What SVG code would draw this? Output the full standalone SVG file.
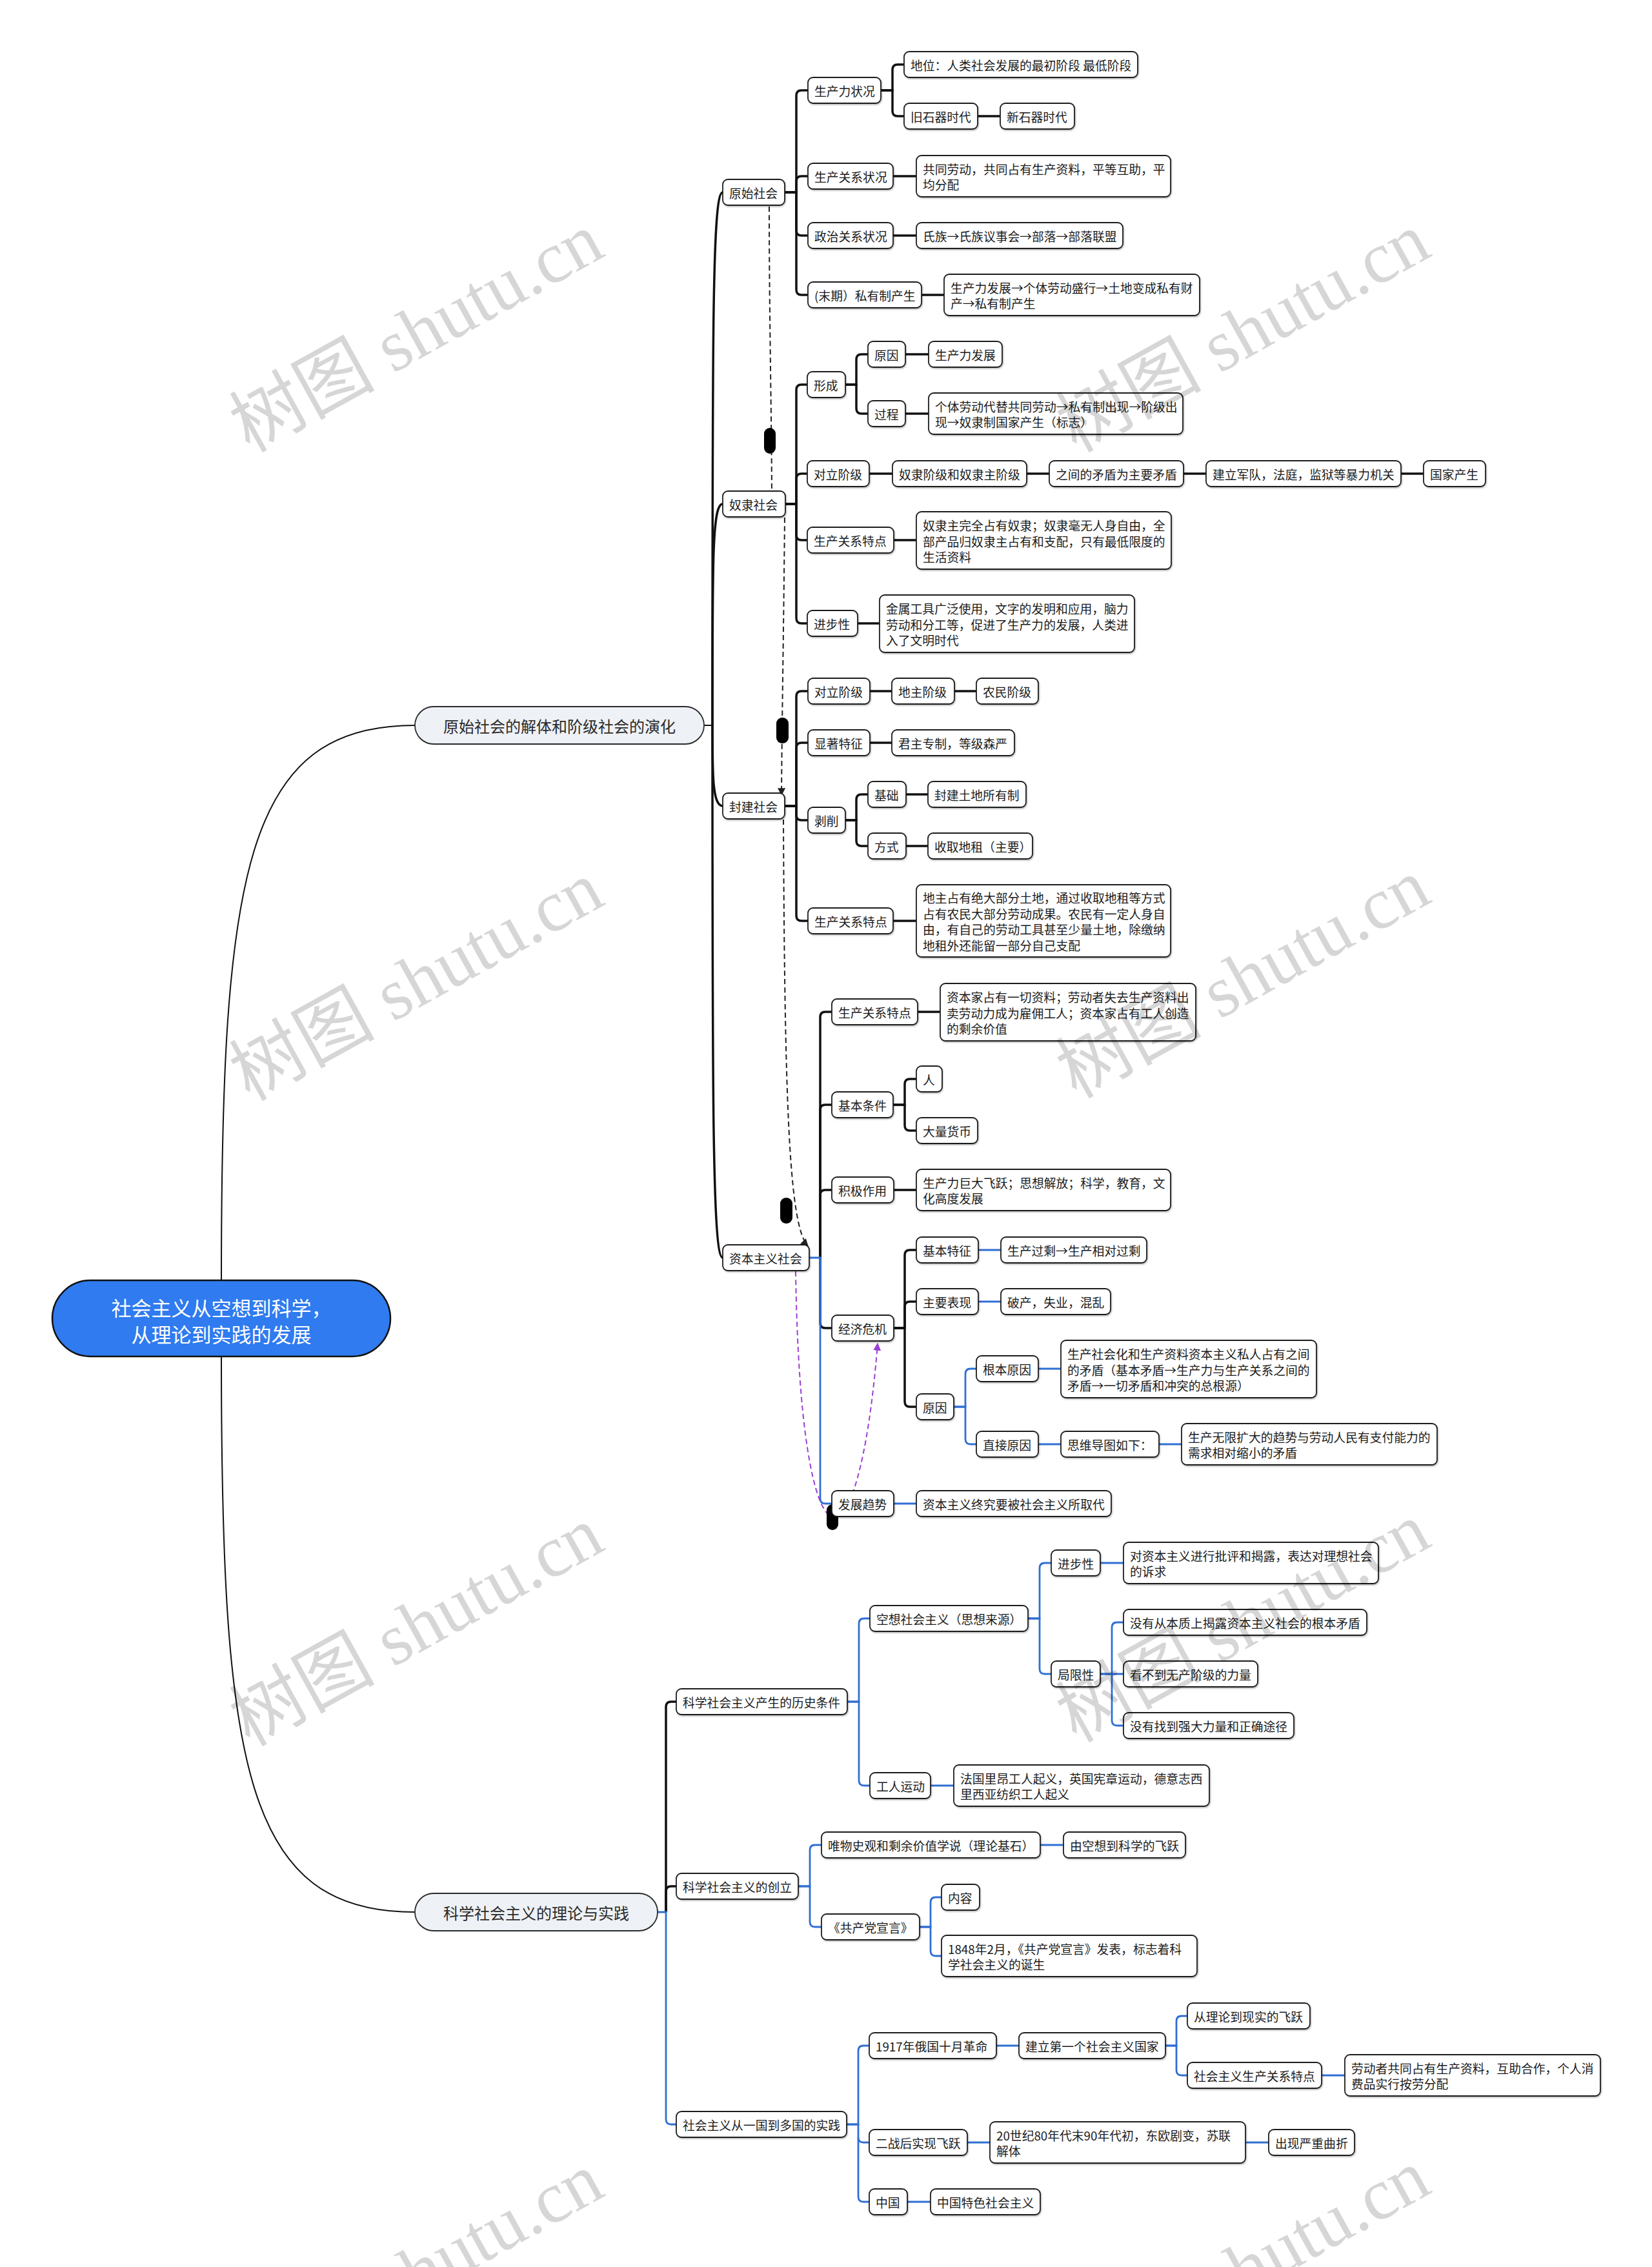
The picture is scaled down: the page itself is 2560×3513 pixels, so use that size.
<svg xmlns="http://www.w3.org/2000/svg" width="2560" height="3513" viewBox="0 0 2560 3513">
<style>
.n rect{fill:#fff;stroke:#1e1e1e;stroke-width:1.8;filter:url(#sh)}
.n text{font-family:"Noto Sans CJK SC","Noto Sans",sans-serif;font-size:18.8px;fill:#1a1a1a;dominant-baseline:central}
.l1 rect{fill:#eef1f5;stroke:#2a2a2a;stroke-width:1.8}
.l1 text{font-family:"Noto Sans CJK SC",sans-serif;font-size:24px;fill:#2a2a2a;dominant-baseline:central;text-anchor:middle}
.k{fill:none;stroke:#111;stroke-width:3.5}
.bl{fill:none;stroke:#2f6fd3;stroke-width:2.8}
.rt{fill:none;stroke:#111;stroke-width:2}
.ds{fill:none;stroke:#222;stroke-width:2;stroke-dasharray:8 5}
.pp{fill:none;stroke:#9b3fd6;stroke-width:2;stroke-dasharray:8 5}
.pill{fill:#000}
.wm text{font-family:"Liberation Serif","Noto Sans CJK SC",serif;font-size:113px;fill:#000;fill-opacity:0.16;text-anchor:middle;dominant-baseline:central}
</style>
<defs>
<filter id="sh" x="-5%" y="-10%" width="110%" height="130%"><feDropShadow dx="1" dy="1.5" stdDeviation="1" flood-color="#000" flood-opacity="0.3"/></filter>
<marker id="ah" viewBox="0 0 10 10" refX="9" refY="5" markerWidth="12" markerHeight="12" markerUnits="userSpaceOnUse" orient="auto"><path d="M0,0 L10,5 L0,10 z" fill="#222"/></marker>
<marker id="ap" viewBox="0 0 10 10" refX="9" refY="5" markerWidth="12" markerHeight="12" markerUnits="userSpaceOnUse" orient="auto"><path d="M0,0 L10,5 L0,10 z" fill="#9b3fd6"/></marker>
</defs>
<rect width="2560" height="3513" fill="#fff"/>

<g id="connectors">
<path class="rt" d="M343,1984 C343,1350 380,1124 643,1124"/>
<path class="rt" d="M343,2101 C343,2740 380,2963 643,2963"/>
<path class="rt" d="M1091,1124 H1104"/>
<path class="k" d="M1104,1124 C1104,500 1104,298 1120,298"/>
<path class="k" d="M1104,1124 C1104,860 1104,781 1120,781"/>
<path class="k" d="M1104,1124 C1104,1200 1104,1249 1120,1249"/>
<path class="k" d="M1104,1124 C1104,1700 1104,1949 1120,1949"/>
<path class="k" d="M1216,298 H1234 V148 Q1234,140 1242,140 H1252"/>
<path class="k" d="M1216,298 H1234 V281 Q1234,273 1242,273 H1252"/>
<path class="k" d="M1216,298 H1234 V357 Q1234,365 1242,365 H1252"/>
<path class="k" d="M1216,298 H1234 V449 Q1234,457 1242,457 H1252"/>
<path class="k" d="M1365,140 H1383 V108 Q1383,100 1391,100 H1401"/>
<path class="k" d="M1365,140 H1383 V172 Q1383,180 1391,180 H1401"/>
<path class="k" d="M1515,180 H1550"/>
<path class="k" d="M1384,273 H1420"/>
<path class="k" d="M1384,365 H1420"/>
<path class="k" d="M1428,457 H1463"/>
<path class="k" d="M1217,781 H1234 V604 Q1234,596 1242,596 H1251"/>
<path class="k" d="M1217,781 H1234 V742 Q1234,734 1242,734 H1251"/>
<path class="k" d="M1217,781 H1234 V829 Q1234,837 1242,837 H1251"/>
<path class="k" d="M1217,781 H1234 V958 Q1234,966 1242,966 H1251"/>
<path class="k" d="M1310,596 H1327 V557 Q1327,549 1335,549 H1345"/>
<path class="k" d="M1310,596 H1327 V633 Q1327,641 1335,641 H1345"/>
<path class="k" d="M1403,549 H1439"/>
<path class="k" d="M1403,641 H1439"/>
<path class="k" d="M1347,734 H1383"/>
<path class="k" d="M1591,734 H1626"/>
<path class="k" d="M1834,734 H1869"/>
<path class="k" d="M2171,734 H2206"/>
<path class="k" d="M1385,837 H1420"/>
<path class="k" d="M1329,966 H1363"/>
<path class="k" d="M1216,1249 H1234 V1079 Q1234,1071 1242,1071 H1252"/>
<path class="k" d="M1216,1249 H1234 V1159 Q1234,1151 1242,1151 H1252"/>
<path class="k" d="M1216,1249 H1234 V1263 Q1234,1271 1242,1271 H1252"/>
<path class="k" d="M1216,1249 H1234 V1419 Q1234,1427 1242,1427 H1252"/>
<path class="k" d="M1348,1071 H1382"/>
<path class="k" d="M1479,1071 H1513"/>
<path class="k" d="M1348,1151 H1382"/>
<path class="k" d="M1310,1271 H1327 V1239 Q1327,1231 1335,1231 H1345"/>
<path class="k" d="M1310,1271 H1327 V1303 Q1327,1311 1335,1311 H1345"/>
<path class="k" d="M1404,1231 H1438"/>
<path class="k" d="M1404,1311 H1438"/>
<path class="k" d="M1384,1427 H1420"/>
<path class="k" d="M1271,1949 V1576 Q1271,1568 1279,1568 H1289"/>
<path class="k" d="M1271,1949 V1720 Q1271,1712 1279,1712 H1289"/>
<path class="k" d="M1271,1949 V1852 Q1271,1844 1279,1844 H1289"/>
<path class="k" d="M1271,1949 V2050 Q1271,2058 1279,2058 H1289"/>
<path class="k" d="M1384,1712 H1402 V1680 Q1402,1672 1410,1672 H1420"/>
<path class="k" d="M1384,1712 H1402 V1744 Q1402,1752 1410,1752 H1420"/>
<path class="k" d="M1422,1568 H1457"/>
<path class="k" d="M1385,1844 H1420"/>
<path class="k" d="M1385,2058 H1402 V1945 Q1402,1937 1410,1937 H1420"/>
<path class="k" d="M1385,2058 H1402 V2025 Q1402,2017 1410,2017 H1420"/>
<path class="k" d="M1385,2058 H1402 V2172 Q1402,2180 1410,2180 H1420"/>
<path class="bl" d="M1254,1949 H1271 V2322 Q1271,2330 1279,2330 H1289"/>
<path class="bl" d="M1516,1937 H1551"/>
<path class="bl" d="M1516,2017 H1551"/>
<path class="bl" d="M1478,2180 H1496 V2129 Q1496,2121 1504,2121 H1513"/>
<path class="bl" d="M1478,2180 H1496 V2230 Q1496,2238 1504,2238 H1513"/>
<path class="bl" d="M1609,2121 H1644"/>
<path class="bl" d="M1609,2238 H1644"/>
<path class="bl" d="M1796,2238 H1831"/>
<path class="bl" d="M1385,2330 H1420"/>
<path class="k" d="M1032,2963 V2645 Q1032,2637 1040,2637 H1048"/>
<path class="k" d="M1032,2963 V2931 Q1032,2923 1040,2923 H1048"/>
<path class="bl" d="M1019,2963 H1032 V3284 Q1032,3292 1040,3292 H1048"/>
<path class="bl" d="M1313,2637 H1331 V2516 Q1331,2508 1339,2508 H1348"/>
<path class="bl" d="M1313,2637 H1331 V2759 Q1331,2767 1339,2767 H1348"/>
<path class="bl" d="M1593,2508 H1611 V2430 Q1611,2422 1619,2422 H1629"/>
<path class="bl" d="M1593,2508 H1611 V2586 Q1611,2594 1619,2594 H1629"/>
<path class="bl" d="M1705,2422 H1741"/>
<path class="bl" d="M1705,2594 H1723 V2522 Q1723,2514 1731,2514 H1741"/>
<path class="bl" d="M1705,2594 H1741"/>
<path class="bl" d="M1723,2594 V2666 Q1723,2674 1731,2674 H1741"/>
<path class="bl" d="M1442,2767 H1478"/>
<path class="bl" d="M1237,2923 H1255 V2867 Q1255,2859 1263,2859 H1273"/>
<path class="bl" d="M1237,2923 H1255 V2978 Q1255,2986 1263,2986 H1273"/>
<path class="bl" d="M1612,2859 H1648"/>
<path class="bl" d="M1425,2986 H1442 V2948 Q1442,2940 1450,2940 H1459"/>
<path class="bl" d="M1425,2986 H1442 V3023 Q1442,3031 1450,3031 H1459"/>
<path class="bl" d="M1312,3292 H1330 V3178 Q1330,3170 1338,3170 H1347"/>
<path class="bl" d="M1312,3292 H1330 V3312 Q1330,3320 1338,3320 H1347"/>
<path class="bl" d="M1330,3312 V3404 Q1330,3412 1338,3412 H1347"/>
<path class="bl" d="M1544,3170 H1579"/>
<path class="bl" d="M1806,3170 H1823 V3132 Q1823,3124 1831,3124 H1840"/>
<path class="bl" d="M1806,3170 H1823 V3208 Q1823,3216 1831,3216 H1840"/>
<path class="bl" d="M2048,3216 H2084"/>
<path class="bl" d="M1499,3320 H1534"/>
<path class="bl" d="M1930,3320 H1966"/>
<path class="bl" d="M1406,3412 H1442"/>
<path class="ds" d="M1192,320 C1192,500 1196,650 1196,788" marker-end="url(#ah)"/>
<path class="ds" d="M1216,802 C1214,1000 1212,1100 1211,1232" marker-end="url(#ah)"/>
<path class="ds" d="M1214,1270 C1216,1700 1222,1900 1252,1931" marker-end="url(#ah)"/>
<path class="pp" d="M1233,1970 C1240,2460 1330,2456 1360,2082" marker-end="url(#ap)"/>
<rect class="pill" x="1184" y="663" width="18" height="40" rx="9"/>
<rect class="pill" x="1203" y="1112" width="19" height="40" rx="9"/>
<rect class="pill" x="1209" y="1856" width="19" height="40" rx="9"/>
<rect class="pill" x="1281" y="2331" width="18" height="40" rx="9"/>
</g>

<g id="root"><rect x="81" y="1984" width="524" height="118" rx="59" fill="#2f7bef" stroke="#111" stroke-width="2.5"/>
<text font-family="'Noto Sans CJK SC',sans-serif" font-size="31" fill="#fff" text-anchor="middle" dominant-baseline="central"><tspan x="343" y="2025">社会主义从空想到科学，</tspan><tspan x="343" y="2066">从理论到实践的发展</tspan></text></g>

<g id="a" class="l1"><rect x="643" y="1095" width="448" height="58" rx="29"/><text x="867" y="1124">原始社会的解体和阶级社会的演化</text></g>
<g id="b" class="l1"><rect x="643" y="2934" width="376" height="58" rx="29"/><text x="831" y="2963">科学社会主义的理论与实践</text></g>

<g id="a1" class="n"><rect x="1120" y="278" width="96" height="40" rx="8"/><text x="1130" y="298">原始社会</text></g>
<g id="a11" class="n"><rect x="1252" y="120" width="113" height="40" rx="8"/><text x="1262" y="140">生产力状况</text></g>
<g id="a111" class="n"><rect x="1401" y="80" width="362" height="40" rx="8"/><text x="1411" y="100">地位：人类社会发展的最初阶段 最低阶段</text></g>
<g id="a112" class="n"><rect x="1401" y="160" width="114" height="40" rx="8"/><text x="1411" y="180">旧石器时代</text></g>
<g id="a1121" class="n"><rect x="1550" y="160" width="115" height="40" rx="8"/><text x="1560" y="180">新石器时代</text></g>
<g id="a12" class="n"><rect x="1252" y="253" width="132" height="40" rx="8"/><text x="1262" y="273">生产关系状况</text></g>
<g id="a121" class="n"><rect x="1420" y="241" width="394" height="64" rx="8"/><text><tspan x="1430" y="261">共同劳动，共同占有生产资料，平等互助，平</tspan><tspan x="1430" y="285">均分配</tspan></text></g>
<g id="a13" class="n"><rect x="1252" y="345" width="132" height="40" rx="8"/><text x="1262" y="365">政治关系状况</text></g>
<g id="a131" class="n"><rect x="1420" y="345" width="320" height="40" rx="8"/><text x="1430" y="365">氏族→氏族议事会→部落→部落联盟</text></g>
<g id="a14" class="n"><rect x="1252" y="437" width="176" height="40" rx="8"/><text x="1262" y="457">(末期）私有制产生</text></g>
<g id="a141" class="n"><rect x="1463" y="425" width="396" height="64" rx="8"/><text><tspan x="1473" y="445">生产力发展→个体劳动盛行→土地变成私有财</tspan><tspan x="1473" y="469">产→私有制产生</tspan></text></g>

<g id="a2" class="n"><rect x="1120" y="761" width="97" height="40" rx="8"/><text x="1130" y="781">奴隶社会</text></g>
<g id="a21" class="n"><rect x="1251" y="576" width="59" height="40" rx="8"/><text x="1261" y="596">形成</text></g>
<g id="a211" class="n"><rect x="1345" y="529" width="58" height="40" rx="8"/><text x="1355" y="549">原因</text></g>
<g id="a2111" class="n"><rect x="1439" y="529" width="114" height="40" rx="8"/><text x="1449" y="549">生产力发展</text></g>
<g id="a212" class="n"><rect x="1345" y="621" width="58" height="40" rx="8"/><text x="1355" y="641">过程</text></g>
<g id="a2121" class="n"><rect x="1439" y="609" width="394" height="64" rx="8"/><text><tspan x="1449" y="629">个体劳动代替共同劳动→私有制出现→阶级出</tspan><tspan x="1449" y="653">现→奴隶制国家产生（标志）</tspan></text></g>
<g id="a22" class="n"><rect x="1251" y="714" width="96" height="40" rx="8"/><text x="1261" y="734">对立阶级</text></g>
<g id="a221" class="n"><rect x="1383" y="714" width="208" height="40" rx="8"/><text x="1393" y="734">奴隶阶级和奴隶主阶级</text></g>
<g id="a222" class="n"><rect x="1626" y="714" width="208" height="40" rx="8"/><text x="1636" y="734">之间的矛盾为主要矛盾</text></g>
<g id="a223" class="n"><rect x="1869" y="714" width="302" height="40" rx="8"/><text x="1879" y="734">建立军队，法庭，监狱等暴力机关</text></g>
<g id="a224" class="n"><rect x="2206" y="714" width="96" height="40" rx="8"/><text x="2216" y="734">国家产生</text></g>
<g id="a23" class="n"><rect x="1251" y="817" width="134" height="40" rx="8"/><text x="1261" y="837">生产关系特点</text></g>
<g id="a231" class="n"><rect x="1420" y="793" width="395" height="89" rx="8"/><text><tspan x="1430" y="813">奴隶主完全占有奴隶；奴隶毫无人身自由，全</tspan><tspan x="1430" y="837.5">部产品归奴隶主占有和支配，只有最低限度的</tspan><tspan x="1430" y="862">生活资料</tspan></text></g>
<g id="a24" class="n"><rect x="1251" y="946" width="78" height="40" rx="8"/><text x="1261" y="966">进步性</text></g>
<g id="a241" class="n"><rect x="1363" y="922" width="395" height="89" rx="8"/><text><tspan x="1373" y="942">金属工具广泛使用，文字的发明和应用，脑力</tspan><tspan x="1373" y="966.5">劳动和分工等，促进了生产力的发展，人类进</tspan><tspan x="1373" y="991">入了文明时代</tspan></text></g>

<g id="a3" class="n"><rect x="1120" y="1229" width="96" height="40" rx="8"/><text x="1130" y="1249">封建社会</text></g>
<g id="a31" class="n"><rect x="1252" y="1051" width="96" height="40" rx="8"/><text x="1262" y="1071">对立阶级</text></g>
<g id="a311" class="n"><rect x="1382" y="1051" width="97" height="40" rx="8"/><text x="1392" y="1071">地主阶级</text></g>
<g id="a312" class="n"><rect x="1513" y="1051" width="96" height="40" rx="8"/><text x="1523" y="1071">农民阶级</text></g>
<g id="a32" class="n"><rect x="1252" y="1131" width="96" height="40" rx="8"/><text x="1262" y="1151">显著特征</text></g>
<g id="a321" class="n"><rect x="1382" y="1131" width="190" height="40" rx="8"/><text x="1392" y="1151">君主专制，等级森严</text></g>
<g id="a33" class="n"><rect x="1252" y="1251" width="58" height="40" rx="8"/><text x="1262" y="1271">剥削</text></g>
<g id="a331" class="n"><rect x="1345" y="1211" width="59" height="40" rx="8"/><text x="1355" y="1231">基础</text></g>
<g id="a3311" class="n"><rect x="1438" y="1211" width="152" height="40" rx="8"/><text x="1448" y="1231">封建土地所有制</text></g>
<g id="a332" class="n"><rect x="1345" y="1291" width="59" height="40" rx="8"/><text x="1355" y="1311">方式</text></g>
<g id="a3321" class="n"><rect x="1438" y="1291" width="162" height="40" rx="8"/><text x="1448" y="1311">收取地租（主要）</text></g>
<g id="a34" class="n"><rect x="1252" y="1407" width="132" height="40" rx="8"/><text x="1262" y="1427">生产关系特点</text></g>
<g id="a341" class="n"><rect x="1420" y="1371" width="394" height="112" rx="8"/><text><tspan x="1430" y="1390.4">地主占有绝大部分土地，通过收取地租等方式</tspan><tspan x="1430" y="1414.8">占有农民大部分劳动成果。农民有一定人身自</tspan><tspan x="1430" y="1439.2">由，有自己的劳动工具甚至少量土地，除缴纳</tspan><tspan x="1430" y="1463.6">地租外还能留一部分自己支配</tspan></text></g>

<g id="a4" class="n"><rect x="1120" y="1929" width="134" height="40" rx="8"/><text x="1130" y="1949">资本主义社会</text></g>
<g id="a41" class="n"><rect x="1289" y="1548" width="133" height="40" rx="8"/><text x="1299" y="1568">生产关系特点</text></g>
<g id="a411" class="n"><rect x="1457" y="1524" width="396" height="89" rx="8"/><text><tspan x="1467" y="1544">资本家占有一切资料；劳动者失去生产资料出</tspan><tspan x="1467" y="1568.5">卖劳动力成为雇佣工人；资本家占有工人创造</tspan><tspan x="1467" y="1593">的剩余价值</tspan></text></g>
<g id="a42" class="n"><rect x="1289" y="1692" width="95" height="40" rx="8"/><text x="1299" y="1712">基本条件</text></g>
<g id="a421" class="n"><rect x="1420" y="1652" width="40" height="40" rx="8"/><text x="1430" y="1672">人</text></g>
<g id="a422" class="n"><rect x="1420" y="1732" width="95" height="40" rx="8"/><text x="1430" y="1752">大量货币</text></g>
<g id="a43" class="n"><rect x="1289" y="1824" width="96" height="40" rx="8"/><text x="1299" y="1844">积极作用</text></g>
<g id="a431" class="n"><rect x="1420" y="1812" width="394" height="64" rx="8"/><text><tspan x="1430" y="1832">生产力巨大飞跃；思想解放；科学，教育，文</tspan><tspan x="1430" y="1856">化高度发展</tspan></text></g>
<g id="a44" class="n"><rect x="1289" y="2038" width="96" height="40" rx="8"/><text x="1299" y="2058">经济危机</text></g>
<g id="a441" class="n"><rect x="1420" y="1917" width="96" height="40" rx="8"/><text x="1430" y="1937">基本特征</text></g>
<g id="a4411" class="n"><rect x="1551" y="1917" width="226" height="40" rx="8"/><text x="1561" y="1937">生产过剩→生产相对过剩</text></g>
<g id="a442" class="n"><rect x="1420" y="1997" width="96" height="40" rx="8"/><text x="1430" y="2017">主要表现</text></g>
<g id="a4421" class="n"><rect x="1551" y="1997" width="170" height="40" rx="8"/><text x="1561" y="2017">破产，失业，混乱</text></g>
<g id="a443" class="n"><rect x="1420" y="2160" width="58" height="40" rx="8"/><text x="1430" y="2180">原因</text></g>
<g id="a4431" class="n"><rect x="1513" y="2101" width="96" height="40" rx="8"/><text x="1523" y="2121">根本原因</text></g>
<g id="a44311" class="n"><rect x="1644" y="2077" width="396" height="89" rx="8"/><text><tspan x="1654" y="2097">生产社会化和生产资料资本主义私人占有之间</tspan><tspan x="1654" y="2121.5">的矛盾（基本矛盾→生产力与生产关系之间的</tspan><tspan x="1654" y="2146">矛盾→一切矛盾和冲突的总根源）</tspan></text></g>
<g id="a4432" class="n"><rect x="1513" y="2218" width="96" height="40" rx="8"/><text x="1523" y="2238">直接原因</text></g>
<g id="a44321" class="n"><rect x="1644" y="2218" width="152" height="40" rx="8"/><text x="1654" y="2238">思维导图如下：</text></g>
<g id="a443211" class="n"><rect x="1831" y="2206" width="396" height="64" rx="8"/><text><tspan x="1841" y="2226">生产无限扩大的趋势与劳动人民有支付能力的</tspan><tspan x="1841" y="2250">需求相对缩小的矛盾</tspan></text></g>
<g id="a45" class="n"><rect x="1289" y="2310" width="96" height="40" rx="8"/><text x="1299" y="2330">发展趋势</text></g>
<g id="a451" class="n"><rect x="1420" y="2310" width="302" height="40" rx="8"/><text x="1430" y="2330">资本主义终究要被社会主义所取代</text></g>

<g id="b1" class="n"><rect x="1048" y="2617" width="265" height="40" rx="8"/><text x="1058" y="2637">科学社会主义产生的历史条件</text></g>
<g id="b11" class="n"><rect x="1348" y="2488" width="245" height="40" rx="8"/><text x="1358" y="2508">空想社会主义（思想来源）</text></g>
<g id="b111" class="n"><rect x="1629" y="2402" width="76" height="40" rx="8"/><text x="1639" y="2422">进步性</text></g>
<g id="b1111" class="n"><rect x="1741" y="2390" width="395" height="64" rx="8"/><text><tspan x="1751" y="2410">对资本主义进行批评和揭露，表达对理想社会</tspan><tspan x="1751" y="2434">的诉求</tspan></text></g>
<g id="b112" class="n"><rect x="1629" y="2574" width="76" height="40" rx="8"/><text x="1639" y="2594">局限性</text></g>
<g id="b1121" class="n"><rect x="1741" y="2494" width="377" height="40" rx="8"/><text x="1751" y="2514">没有从本质上揭露资本主义社会的根本矛盾</text></g>
<g id="b1122" class="n"><rect x="1741" y="2574" width="208" height="40" rx="8"/><text x="1751" y="2594">看不到无产阶级的力量</text></g>
<g id="b1123" class="n"><rect x="1741" y="2654" width="264" height="40" rx="8"/><text x="1751" y="2674">没有找到强大力量和正确途径</text></g>
<g id="b12" class="n"><rect x="1348" y="2747" width="94" height="40" rx="8"/><text x="1358" y="2767">工人运动</text></g>
<g id="b121" class="n"><rect x="1478" y="2735" width="396" height="64" rx="8"/><text><tspan x="1488" y="2755">法国里昂工人起义，英国宪章运动，德意志西</tspan><tspan x="1488" y="2779">里西亚纺织工人起义</tspan></text></g>
<g id="b2" class="n"><rect x="1048" y="2903" width="189" height="40" rx="8"/><text x="1058" y="2923">科学社会主义的创立</text></g>
<g id="b21" class="n"><rect x="1273" y="2839" width="339" height="40" rx="8"/><text x="1283" y="2859">唯物史观和剩余价值学说（理论基石）</text></g>
<g id="b211" class="n"><rect x="1648" y="2839" width="189" height="40" rx="8"/><text x="1658" y="2859">由空想到科学的飞跃</text></g>
<g id="b22" class="n"><rect x="1273" y="2966" width="152" height="40" rx="8"/><text x="1283" y="2986">《共产党宣言》</text></g>
<g id="b221" class="n"><rect x="1459" y="2920" width="59" height="40" rx="8"/><text x="1469" y="2940">内容</text></g>
<g id="b222" class="n"><rect x="1459" y="2999" width="396" height="64" rx="8"/><text><tspan x="1469" y="3019">1848年2月，《共产党宣言》发表，标志着科</tspan><tspan x="1469" y="3043">学社会主义的诞生</tspan></text></g>
<g id="b3" class="n"><rect x="1048" y="3272" width="264" height="40" rx="8"/><text x="1058" y="3292">社会主义从一国到多国的实践</text></g>
<g id="b31" class="n"><rect x="1347" y="3150" width="197" height="40" rx="8"/><text x="1357" y="3170">1917年俄国十月革命</text></g>
<g id="b311" class="n"><rect x="1579" y="3150" width="227" height="40" rx="8"/><text x="1589" y="3170">建立第一个社会主义国家</text></g>
<g id="b3111" class="n"><rect x="1840" y="3104" width="190" height="40" rx="8"/><text x="1850" y="3124">从理论到现实的飞跃</text></g>
<g id="b3112" class="n"><rect x="1840" y="3196" width="208" height="40" rx="8"/><text x="1850" y="3216">社会主义生产关系特点</text></g>
<g id="b31121" class="n"><rect x="2084" y="3184" width="396" height="64" rx="8"/><text><tspan x="2094" y="3204">劳动者共同占有生产资料，互助合作，个人消</tspan><tspan x="2094" y="3228">费品实行按劳分配</tspan></text></g>
<g id="b32" class="n"><rect x="1347" y="3300" width="152" height="40" rx="8"/><text x="1357" y="3320">二战后实现飞跃</text></g>
<g id="b321" class="n"><rect x="1534" y="3288" width="396" height="64" rx="8"/><text><tspan x="1544" y="3308">20世纪80年代末90年代初，东欧剧变，苏联</tspan><tspan x="1544" y="3332">解体</tspan></text></g>
<g id="b3211" class="n"><rect x="1966" y="3300" width="133" height="40" rx="8"/><text x="1976" y="3320">出现严重曲折</text></g>
<g id="b33" class="n"><rect x="1347" y="3392" width="59" height="40" rx="8"/><text x="1357" y="3412">中国</text></g>
<g id="b331" class="n"><rect x="1442" y="3392" width="170" height="40" rx="8"/><text x="1452" y="3412">中国特色社会主义</text></g>

<g id="watermark" class="wm">
<text transform="translate(645,515) rotate(-29)">树图 shutu.cn</text>
<text transform="translate(1926,515) rotate(-29)">树图 shutu.cn</text>
<text transform="translate(645,1520) rotate(-29)">树图 shutu.cn</text>
<text transform="translate(1926,1516) rotate(-29)">树图 shutu.cn</text>
<text transform="translate(645,2520) rotate(-29)">树图 shutu.cn</text>
<text transform="translate(1926,2514) rotate(-29)">树图 shutu.cn</text>
<text transform="translate(645,3521) rotate(-29)">树图 shutu.cn</text>
<text transform="translate(1926,3516) rotate(-29)">树图 shutu.cn</text>
</g>
</svg>
